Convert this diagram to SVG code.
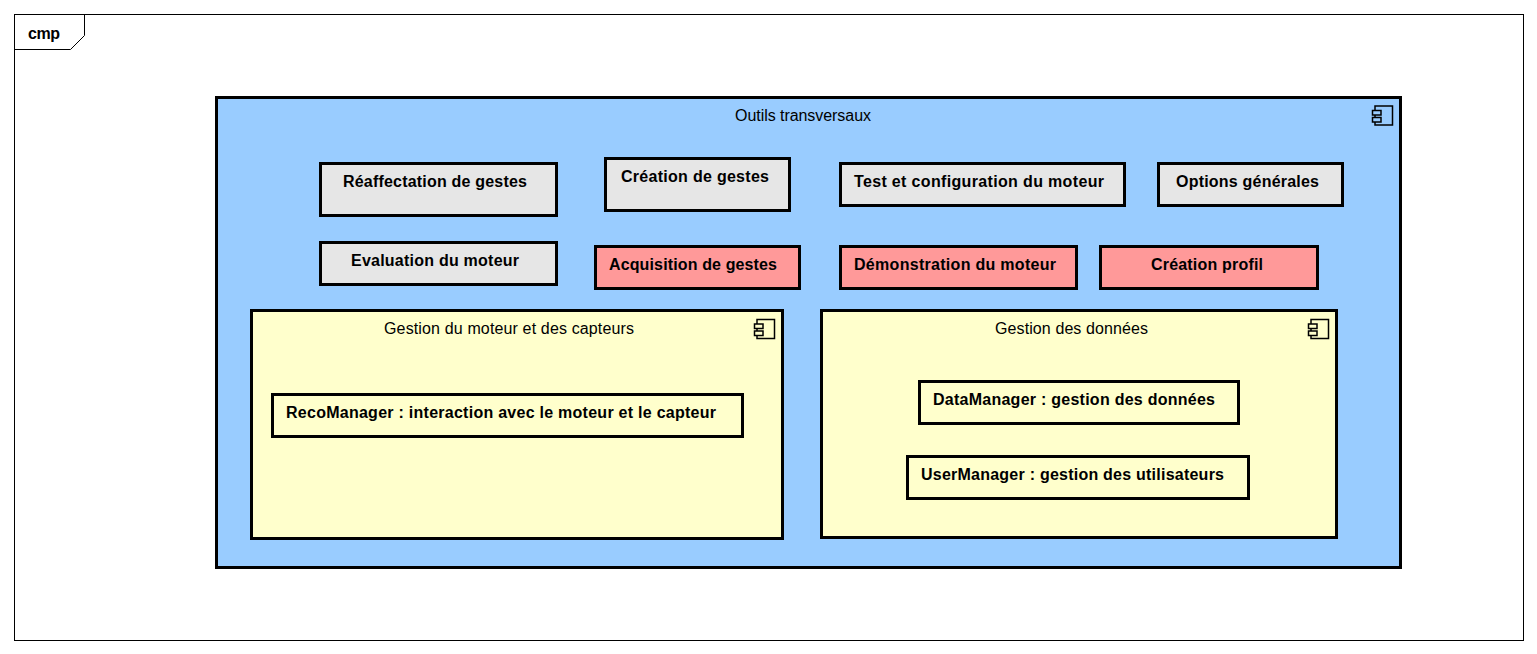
<svg xmlns="http://www.w3.org/2000/svg" width="1537" height="654" viewBox="0 0 1537 654">
<style>
text{font-family:"Liberation Sans",Arial,sans-serif;font-size:16px;fill:#000}
.b{font-weight:bold}
.n{stroke:#000;stroke-width:3}
.g{fill:#e6e6e6}.r{fill:#ff9999}.y{fill:#ffffcc}.bl{fill:#99ccff}
.ic{stroke:#000;stroke-width:1.500}
</style>
<defs>
<g id="icon" class="ic">
<rect x="2.500" y="0" width="17.500" height="19"/>
<rect x="0" y="4.500" width="8.500" height="4.500"/>
<rect x="0" y="11.500" width="8.500" height="4.500"/>
</g>
</defs>
<rect width="1537" height="654" fill="#fff"/>
<g id="frame">
<rect x="14.500" y="14.500" width="1509" height="626" fill="#fff" stroke="#000" stroke-width="1"/>
<path d="M14.500 49.500H70.500L84.500 35.500V14.500" fill="none" stroke="#000" stroke-width="1"/>
<text x="28" y="39" class="b" textLength="32">cmp</text>
</g>
<g id="outils">
<rect class="n bl" x="216.500" y="97.500" width="1184" height="470"/>
<use href="#icon" x="1372.500" y="106" fill="#99ccff"/>
<text x="735" y="121" textLength="136">Outils transversaux</text>
</g>
<g id="reaffectation"><rect class="n g" x="320.500" y="163.500" width="236" height="52"/><text class="b" x="343" y="187" textLength="184">Réaffectation de gestes</text></g>
<g id="creation-gestes"><rect class="n g" x="605.500" y="158.500" width="184" height="52"/><text class="b" x="621" y="182" textLength="148">Création de gestes</text></g>
<g id="test-config"><rect class="n g" x="840.500" y="163.500" width="284" height="42"/><text class="b" x="854" y="187" textLength="250">Test et configuration du moteur</text></g>
<g id="options"><rect class="n g" x="1158.500" y="163.500" width="184" height="42"/><text class="b" x="1176" y="187" textLength="143">Options générales</text></g>
<g id="evaluation"><rect class="n g" x="320.500" y="242.500" width="236" height="42"/><text class="b" x="351" y="266" textLength="168">Evaluation du moteur</text></g>
<g id="acquisition"><rect class="n r" x="595.500" y="246.500" width="204" height="42"/><text class="b" x="609" y="270" textLength="168">Acquisition de gestes</text></g>
<g id="demonstration"><rect class="n r" x="840.500" y="246.500" width="236" height="42"/><text class="b" x="854" y="270" textLength="202">Démonstration du moteur</text></g>
<g id="creation-profil"><rect class="n r" x="1100.500" y="246.500" width="217" height="42"/><text class="b" x="1151" y="270" textLength="112">Création profil</text></g>
<g id="gestion-moteur">
<rect class="n y" x="251.500" y="310.500" width="531" height="228"/>
<use href="#icon" x="754.500" y="319.500" fill="#ffffcc"/>
<text x="384" y="334" textLength="250">Gestion du moteur et des capteurs</text>
</g>
<g id="recomanager"><rect class="n y" x="272.500" y="394.500" width="470" height="42"/><text class="b" x="286" y="418" textLength="430">RecoManager : interaction avec le moteur et le capteur</text></g>
<g id="gestion-donnees">
<rect class="n y" x="821.500" y="310.500" width="515" height="227"/>
<use href="#icon" x="1308.500" y="319.500" fill="#ffffcc"/>
<text x="995" y="334" textLength="153">Gestion des données</text>
</g>
<g id="datamanager"><rect class="n y" x="919.500" y="381.500" width="319" height="42"/><text class="b" x="933" y="405" textLength="282">DataManager : gestion des données</text></g>
<g id="usermanager"><rect class="n y" x="907.500" y="456.500" width="341" height="42"/><text class="b" x="921" y="480" textLength="303">UserManager : gestion des utilisateurs</text></g>
<g id="connectors"></g>
</svg>
